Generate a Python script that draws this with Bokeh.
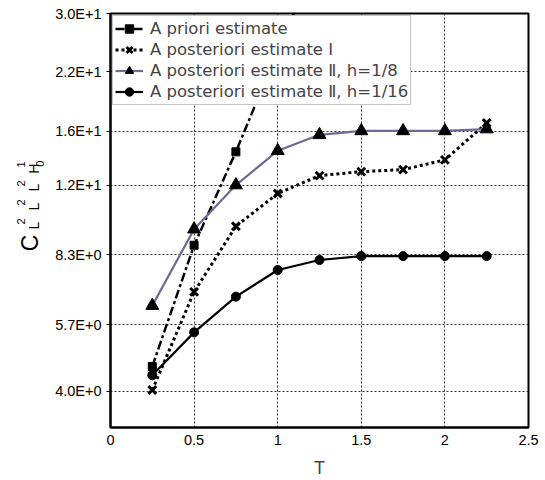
import math
from bokeh.plotting import figure
from bokeh.layouts import row
from bokeh.models import (FixedTicker, CustomJSTickFormatter, Label, Legend,
                          LegendItem, Range1d)
from bokeh.embed import file_html
from bokeh.resources import INLINE

# ---------------- data ----------------
T = [0.25, 0.5, 0.75, 1.0, 1.25, 1.5, 1.75, 2.0, 2.25]
T_priori = [0.25, 0.5, 0.75, 1.0, 1.25]
a_priori = [4.57, 8.72, 14.35, 24.6, 41.0]
post_I = [4.03, 6.80, 9.65, 11.49, 12.64, 12.91, 13.05, 13.75, 16.73]
post_II_8 = [6.32, 9.50, 12.02, 14.43, 15.71, 16.04, 16.04, 16.04, 16.2]
post_II_16 = [4.36, 5.48, 6.63, 7.64, 8.06, 8.23, 8.23, 8.23, 8.23]

series_names = ["A priori estimate",
                "A posteriori estimate \u2160",
                "A posteriori estimate \u2161, h=1/8",
                "A posteriori estimate \u2161, h=1/16"]

x_ticks = [0, 0.5, 1, 1.5, 2, 2.5]
x_tick_labels = ["0", "0.5", "1", "1.5", "2", "2.5"]
y_ticks = [4.0, 5.7, 8.3, 12, 16, 22, 30]
y_tick_labels = ["4.0E+0", "5.7E+0", "8.3E+0", "1.2E+1", "1.6E+1", "2.2E+1", "3.0E+1"]
x_title = "T"
# y title: C_{L^2 L^2 L^2 H^1_0}, written as (text, role)
y_title_parts = [("C", "main"),
                 ("L", "sub"), ("2", "sup"),
                 ("L", "sub"), ("2", "sup"),
                 ("L", "sub"), ("2", "sup"),
                 ("H", "sub"), ("1", "sup"), ("0", "subsub")]

# ---------------- layout ----------------
W, H = 545, 480
LW = 50                              # width of the strip that holds the y title
FL, FR, FT, FB = 110, 528, 13, 430   # frame edges in canvas px
X0, X1 = 0.0, 2.5
Y0, Y1 = 3.3, 30.0
FONT = "Liberation Sans"
LFONT = "DejaVu Sans"

p = figure(width=W - LW, height=H, output_backend="svg", toolbar_location=None,
           x_range=Range1d(X0, X1), y_range=Range1d(Y0, Y1), y_axis_type="log",
           min_border_left=FL - LW, min_border_right=W - FR,
           min_border_top=FT, min_border_bottom=H - FB)
p.background_fill_color = "white"
p.border_fill_color = "white"
p.outline_line_color = "black"
p.outline_line_width = 2

fmt_js = """
let best = 0, bd = 1e99;
for (let i = 0; i < tvals.length; i++) {
  const d = Math.abs(tvals[i] - tick);
  if (d < bd) { bd = d; best = i; }
}
return tlabels[best];
"""
p.xaxis.ticker = FixedTicker(ticks=x_ticks, minor_ticks=[])
p.xaxis.formatter = CustomJSTickFormatter(args=dict(tvals=x_ticks, tlabels=x_tick_labels), code=fmt_js)
p.yaxis.ticker = FixedTicker(ticks=y_ticks, minor_ticks=[])
p.yaxis.formatter = CustomJSTickFormatter(args=dict(tvals=y_ticks, tlabels=y_tick_labels), code=fmt_js)

for ax in (p.xaxis[0], p.yaxis[0]):
    ax.axis_line_color = "black"
    ax.axis_line_width = 2
    ax.major_label_text_font = FONT
    ax.major_label_text_font_size = "14.5px"
    ax.major_label_text_color = "black"
    ax.minor_tick_line_color = None
    ax.major_tick_line_color = "black"
    ax.major_tick_in = 0

p.xaxis.major_tick_out = 0
p.xaxis.major_label_standoff = 7
p.xaxis.axis_label = x_title
p.xaxis.axis_label_text_font = FONT
p.xaxis.axis_label_text_font_style = "normal"
p.xaxis.axis_label_text_font_size = "18px"
p.xaxis.axis_label_standoff = 10
p.yaxis.major_tick_out = 4
p.yaxis.major_label_standoff = 5

for g in (p.xgrid[0], p.ygrid[0]):
    g.grid_line_color = "#333333"
    g.grid_line_width = 1
    g.grid_line_dash = "2 2"

# ---------------- series ----------------
r1l = p.line(T_priori, a_priori, line_color="black", line_width=2.5, line_dash="9 3 3 3")
r1m = p.scatter(T_priori, a_priori, marker="square", size=8, fill_color="black", line_color="black")

r2l = p.line(T, post_I, line_color="black", line_width=3, line_dash="3 3")
r2m = p.scatter(T, post_I, marker="x", size=11, line_color="black", line_width=3)

r3l = p.line(T, post_II_8, line_color="#6b6b99", line_width=2.2)
r3m = p.scatter(T, post_II_8, marker="triangle", size=13, fill_color="black", line_color="black")

r4l = p.line(T, post_II_16, line_color="black", line_width=2.2)
r4m = p.scatter(T, post_II_16, marker="circle", size=9, fill_color="black", line_color="black")

legend = Legend(items=[LegendItem(label=series_names[0], renderers=[r1l, r1m]),
                       LegendItem(label=series_names[1], renderers=[r2l, r2m]),
                       LegendItem(label=series_names[2], renderers=[r3l, r3m]),
                       LegendItem(label=series_names[3], renderers=[r4l, r4m])],
                location="top_left", margin=2, padding=2, spacing=0,
                label_height=21, glyph_height=21, glyph_width=28, label_standoff=7,
                label_text_font=LFONT, label_text_font_size="16.5px",
                border_line_color="#8a8a8a", border_line_width=1.5,
                background_fill_color="white", background_fill_alpha=1)
p.add_layout(legend, "center")

# ---------------- y title strip (pixel coordinates, y downwards) ----------------
q = figure(width=LW, height=H, output_backend="svg", toolbar_location=None,
           x_range=Range1d(0, LW), y_range=Range1d(H, 0),
           x_axis_location=None, y_axis_location=None,
           min_border_left=0, min_border_right=0, min_border_top=0, min_border_bottom=0)
q.outline_line_color = None
q.background_fill_color = "white"
q.border_fill_color = "white"
q.xgrid.visible = False
q.ygrid.visible = False

role_style = {"main": (29, "23px"), "sub": (33, "14px"), "sup": (20, "11px"), "subsub": (39, "11px")}
cy = 266
prev_role = None
for txt, role in y_title_parts:
    cx, fs = role_style[role]
    if role == "main":
        cy = 266
    elif role == "sub":
        cy = cy - (20 if prev_role == "main" else 17)
    elif role == "sup":
        cy = cy - 5
    elif role == "subsub":
        cy = cy - 1
    q.add_layout(Label(x=cx, y=cy, text=txt, angle=math.pi / 2, text_align="center",
                       text_baseline="middle", text_font=FONT, text_font_size=fs,
                       text_color="black"))
    prev_role = role

open("out.html", "w").write(file_html(row(q, p), INLINE))
